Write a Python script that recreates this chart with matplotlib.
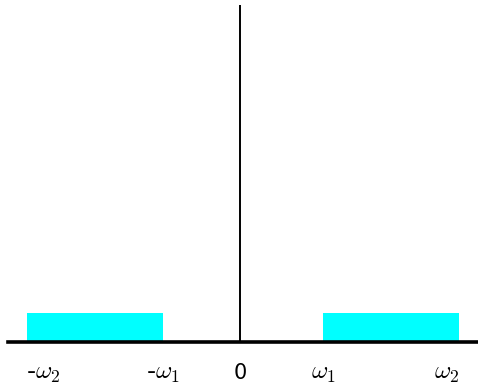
import matplotlib
matplotlib.use("Agg")
import matplotlib.pyplot as plt

plt.rcParams['mathtext.fontset'] = 'cm'

# Pass bands on the frequency axis (negative and positive side)
band_starts = [-2.66, 1.04]
band_ends = [-0.96, 2.74]
amp = 0.086
tick_pos = [-2.66, -0.96, 0, 1.04, 2.74]
tick_labels = [r'$\text{-}\omega_2$', r'$\text{-}\omega_1$', '0', r'$\omega_1$', r'$\omega_2$']
tick_ha = ['left', 'center', 'center', 'center', 'right']
tick_size = [18, 18, 15, 18, 18]

fig = plt.figure(figsize=(4.78, 3.86), dpi=100)
ax = fig.add_axes([8/478, 44/386, 470/478, 337/386])
ax.set_xlim(-2.9, 2.975)
ax.set_ylim(0, 1)
ax.axis('off')

widths = [e - s for s, e in zip(band_starts, band_ends)]
ax.bar(band_starts, [amp, amp], width=widths, align='edge', color='#00ffff', zorder=1)
ax.axhline(0, color='black', lw=2.6, zorder=3, clip_on=False)
ax.axvline(0, color='black', lw=1.4, zorder=3)

for x, lab, ha, fs in zip(tick_pos, tick_labels, tick_ha, tick_size):
    ax.text(x, -0.093, lab, ha=ha, va='center', fontsize=fs,
            family='DejaVu Sans', clip_on=False)

fig.savefig('out.png', dpi=100)
